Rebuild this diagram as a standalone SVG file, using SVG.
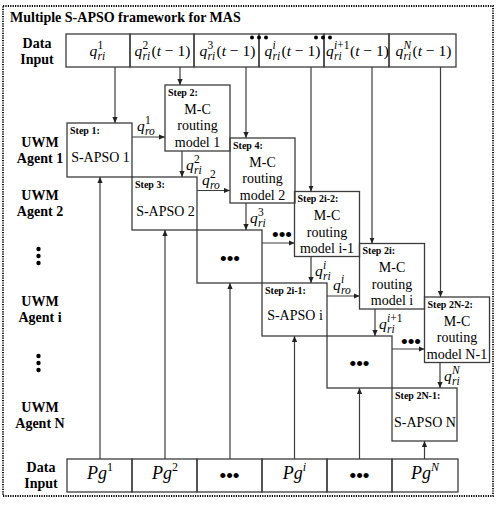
<svg xmlns="http://www.w3.org/2000/svg" width="500" height="505" viewBox="0 0 500 505">
<defs>
<marker id="ah" viewBox="0 0 6 6" refX="6" refY="3" markerWidth="6" markerHeight="6" markerUnits="userSpaceOnUse" orient="auto"><path d="M0,0.4 L6,3 L0,5.6 z" fill="#222"/></marker>
</defs>
<style>
.bx{fill:none;stroke:#3c3c3c;stroke-width:1.3}
.cn line{stroke:#3c3c3c;stroke-width:1.2;fill:none;marker-end:url(#ah)}
.lb{font-family:"Liberation Serif",serif;font-weight:bold;font-size:14px;text-anchor:middle;fill:#000}
.st{font-family:"Liberation Serif",serif;font-weight:bold;font-size:10px;fill:#000}
.tx{font-family:"Liberation Serif",serif;font-size:14px;text-anchor:middle;fill:#000}
.m{font-family:"Liberation Serif",serif;font-size:15.5px;fill:#000}
.pg{font-family:"Liberation Serif",serif;font-size:18px;text-anchor:middle;fill:#000}
.i{font-style:italic}
.s{font-size:11.5px}
.d{font-family:"Liberation Sans",sans-serif;font-size:19px;text-anchor:middle;fill:#000}
.vd{fill:#000}
</style>
<rect x="0" y="0" width="500" height="505" fill="#fff"/>
<rect x="3" y="6" width="490" height="490" fill="none" stroke="#000" stroke-width="1.8" stroke-dasharray="1.2 1.2"/>
<text x="10" y="22" style="font-family:'Liberation Serif',serif;font-weight:bold;font-size:14px">Multiple S-APSO framework for MAS</text>

<g id="row-labels">
<text class="lb" x="37" y="48">Data</text><text class="lb" x="37" y="64">Input</text>
<text class="lb" x="40" y="147">UWM</text><text class="lb" x="40" y="163">Agent 1</text>
<text class="lb" x="40" y="200">UWM</text><text class="lb" x="40" y="216">Agent 2</text>
<circle class="vd" cx="38.5" cy="249" r="2.2"/><circle class="vd" cx="38.5" cy="256" r="2.2"/><circle class="vd" cx="38.5" cy="263" r="2.2"/>
<text class="lb" x="40" y="306">UWM</text><text class="lb" x="40" y="322">Agent i</text>
<circle class="vd" cx="38.5" cy="356" r="2.2"/><circle class="vd" cx="38.5" cy="363" r="2.2"/><circle class="vd" cx="38.5" cy="370" r="2.2"/>
<text class="lb" x="40" y="412">UWM</text><text class="lb" x="40" y="428">Agent N</text>
<text class="lb" x="41" y="472">Data</text><text class="lb" x="41" y="488">Input</text>
</g>

<g id="data-input-top">
<rect class="bx" x="66" y="34" width="64" height="33"/>
<rect class="bx" x="130" y="34" width="64" height="33"/>
<rect class="bx" x="194" y="34" width="65" height="33"/>
<rect class="bx" x="259" y="34" width="65" height="33"/>
<rect class="bx" x="324" y="34" width="65" height="33"/>
<rect class="bx" x="389" y="34" width="67" height="33"/>
<text class="m"><tspan class="i" x="89.5" y="56">q</tspan><tspan class="s" x="97.5" y="49">1</tspan><tspan class="s i" x="97.5" y="60">ri</tspan></text>
<text class="m"><tspan class="i" x="134.5" y="56">q</tspan><tspan class="s" x="142.5" y="49">2</tspan><tspan class="s i" x="142.5" y="60">ri</tspan><tspan x="151.5" y="56">(<tspan class="i">t</tspan> − 1)</tspan></text>
<text class="m"><tspan class="i" x="199.5" y="56">q</tspan><tspan class="s" x="207.5" y="49">3</tspan><tspan class="s i" x="207.5" y="60">ri</tspan><tspan x="216.5" y="56">(<tspan class="i">t</tspan> − 1)</tspan></text>
<text class="m"><tspan class="i" x="264.5" y="56">q</tspan><tspan class="s i" x="272.5" y="49">i</tspan><tspan class="s i" x="272.5" y="60">ri</tspan><tspan x="281.5" y="56">(<tspan class="i">t</tspan> − 1)</tspan></text>
<text class="m"><tspan class="i" x="326" y="56">q</tspan><tspan class="s" x="334" y="49"><tspan class="i">i</tspan>+1</tspan><tspan class="s i" x="334" y="60">ri</tspan><tspan x="350" y="56">(<tspan class="i">t</tspan> − 1)</tspan></text>
<text class="m"><tspan class="i" x="395.5" y="56">q</tspan><tspan class="s i" x="403.5" y="49">N</tspan><tspan class="s i" x="403.5" y="60">ri</tspan><tspan x="412.5" y="56">(<tspan class="i">t</tspan> − 1)</tspan></text>
<circle class="vd" cx="252" cy="37.5" r="2"/><circle class="vd" cx="259" cy="37.5" r="2"/><circle class="vd" cx="266" cy="37.5" r="2"/>
<circle class="vd" cx="316" cy="37.5" r="2"/><circle class="vd" cx="323" cy="37.5" r="2"/><circle class="vd" cx="330" cy="37.5" r="2"/>
</g>

<g id="data-input-bottom">
<rect class="bx" x="67" y="459" width="65" height="33"/>
<rect class="bx" x="132" y="459" width="65" height="33"/>
<rect class="bx" x="197" y="459" width="65" height="33"/>
<rect class="bx" x="262" y="459" width="65" height="33"/>
<rect class="bx" x="327" y="459" width="65" height="33"/>
<rect class="bx" x="392" y="459" width="66" height="33"/>
<text class="pg" x="100" y="479"><tspan class="i">Pg</tspan><tspan dy="-8" font-size="12">1</tspan></text>
<text class="pg" x="165" y="479"><tspan class="i">Pg</tspan><tspan dy="-8" font-size="12">2</tspan></text>
<text class="d" x="229.5" y="482">•••</text>
<text class="pg" x="294.5" y="479"><tspan class="i">Pg</tspan><tspan class="i" dy="-8" font-size="12">i</tspan></text>
<text class="d" x="359.5" y="482">•••</text>
<text class="pg" x="425" y="479"><tspan class="i">Pg</tspan><tspan class="i" dy="-8" font-size="12">N</tspan></text>
</g>

<g id="step1"><rect class="bx" x="67" y="123" width="65" height="54"/><text class="st" x="70" y="134">Step 1:</text><text class="tx" x="100.5" y="162">S-APSO 1</text></g>
<g id="step2"><rect class="bx" x="165" y="85" width="65" height="66"/><text class="st" x="168" y="95.5">Step 2:</text><text class="tx" x="197.5" y="113.5">M-C</text><text class="tx" x="197.5" y="130">routing</text><text class="tx" x="197.5" y="146.5">model 1</text></g>
<g id="step3"><rect class="bx" x="132" y="177" width="65" height="53"/><text class="st" x="135" y="188">Step 3:</text><text class="tx" x="165.5" y="215.5">S-APSO 2</text></g>
<g id="step4"><rect class="bx" x="230" y="138" width="65" height="65"/><text class="st" x="233" y="148.5">Step 4:</text><text class="tx" x="262.5" y="166.5">M-C</text><text class="tx" x="262.5" y="183">routing</text><text class="tx" x="262.5" y="199.5">model 2</text></g>
<g id="agent3"><rect class="bx" x="197" y="230" width="65" height="53"/><text class="d" x="230" y="265">•••</text></g>
<g id="step2i-2"><rect class="bx" x="294.5" y="191.5" width="65" height="65"/><text class="st" x="297.5" y="202">Step 2i-2:</text><text class="tx" x="327" y="220">M-C</text><text class="tx" x="327" y="236.5">routing</text><text class="tx" x="327" y="253">model i-1</text></g>
<g id="step2i-1"><rect class="bx" x="262" y="283" width="65" height="53"/><text class="st" x="265" y="294">Step 2i-1:</text><text class="tx" x="295" y="320">S-APSO i</text></g>
<g id="step2i"><rect class="bx" x="359.5" y="243.5" width="65" height="65.5"/><text class="st" x="362.5" y="254">Step 2i:</text><text class="tx" x="392" y="272">M-C</text><text class="tx" x="392" y="288.5">routing</text><text class="tx" x="392" y="305">model i</text></g>
<g id="agentN-1"><rect class="bx" x="327" y="336" width="65" height="52"/><text class="d" x="359.5" y="370">•••</text></g>
<g id="step2N-2"><rect class="bx" x="424.5" y="297" width="65" height="65.5"/><text class="st" x="427.5" y="307.5">Step 2N-2:</text><text class="tx" x="457" y="325.5">M-C</text><text class="tx" x="457" y="342">routing</text><text class="tx" x="457" y="358.5">model N-1</text></g>
<g id="step2N-1"><rect class="bx" x="392" y="388" width="65" height="53"/><text class="st" x="395" y="399">Step 2N-1:</text><text class="tx" x="425" y="427">S-APSO N</text></g>

<g id="connectors" class="cn">
<line x1="115" y1="67" x2="115" y2="123"/>
<line x1="180" y1="67" x2="180" y2="85"/>
<line x1="246" y1="67" x2="246" y2="138"/>
<line x1="311" y1="67" x2="311" y2="191.5"/>
<line x1="372" y1="67" x2="372" y2="243.5"/>
<line x1="440.5" y1="67" x2="440.5" y2="297"/>
<line x1="132" y1="137" x2="165" y2="137"/>
<line x1="182" y1="151" x2="182" y2="177"/>
<line x1="197" y1="190.5" x2="230" y2="190.5"/>
<line x1="246" y1="203" x2="246" y2="230"/>
<line x1="262" y1="243" x2="294.5" y2="243"/>
<line x1="311" y1="256.5" x2="311" y2="283"/>
<line x1="327" y1="296" x2="359.5" y2="296"/>
<line x1="375" y1="309" x2="375" y2="336"/>
<line x1="392" y1="349" x2="424.5" y2="349"/>
<line x1="440" y1="362.5" x2="440" y2="388"/>
<line x1="100" y1="459" x2="100" y2="177"/>
<line x1="165" y1="459" x2="165" y2="230"/>
<line x1="230" y1="459" x2="230" y2="283"/>
<line x1="294.5" y1="459" x2="294.5" y2="336"/>
<line x1="359.5" y1="459" x2="359.5" y2="388"/>
<line x1="424.5" y1="459" x2="424.5" y2="441"/>
</g>

<g id="connector-labels">
<text class="m"><tspan class="i" x="137" y="131">q</tspan><tspan class="s" x="145" y="124">1</tspan><tspan class="s i" x="145" y="135">ro</tspan></text>
<text class="m"><tspan class="i" x="186" y="170">q</tspan><tspan class="s" x="194" y="163">2</tspan><tspan class="s i" x="194" y="174">ri</tspan></text>
<text class="m"><tspan class="i" x="202" y="184.5">q</tspan><tspan class="s" x="210" y="177.5">2</tspan><tspan class="s i" x="210" y="188.5">ro</tspan></text>
<text class="m"><tspan class="i" x="250" y="223">q</tspan><tspan class="s" x="258" y="216">3</tspan><tspan class="s i" x="258" y="227">ri</tspan></text>
<text class="d" x="282" y="241">•••</text>
<text class="m"><tspan class="i" x="315" y="276">q</tspan><tspan class="s i" x="323" y="269">i</tspan><tspan class="s i" x="323" y="280">ri</tspan></text>
<text class="m"><tspan class="i" x="333" y="290">q</tspan><tspan class="s i" x="341" y="283">i</tspan><tspan class="s i" x="341" y="294">ro</tspan></text>
<text class="m"><tspan class="i" x="379" y="329">q</tspan><tspan class="s" x="387" y="322"><tspan class="i">i</tspan>+1</tspan><tspan class="s i" x="387" y="333">ri</tspan></text>
<text class="d" x="411" y="348">•••</text>
<text class="m"><tspan class="i" x="444" y="381">q</tspan><tspan class="s i" x="452" y="374">N</tspan><tspan class="s i" x="452" y="385">ri</tspan></text>
</g>
</svg>
